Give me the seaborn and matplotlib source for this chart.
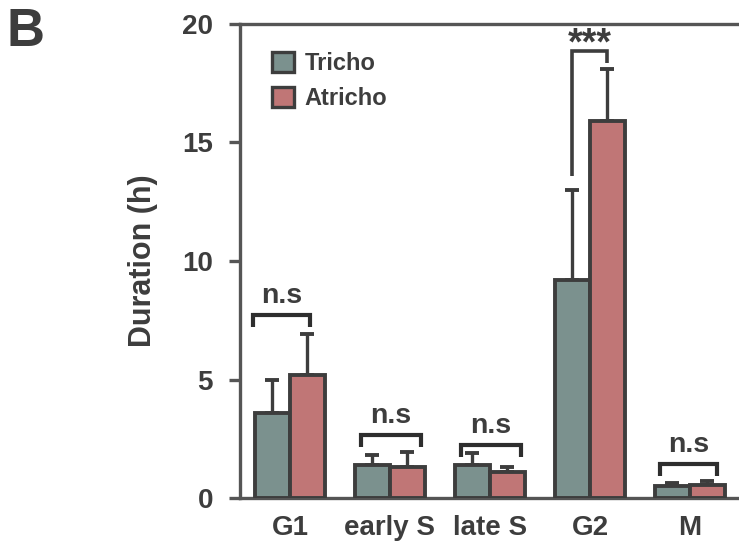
import numpy as np
import pandas as pd
import matplotlib
matplotlib.use("Agg")
import matplotlib.pyplot as plt
import seaborn as sns

# Cell-cycle phase durations (mean and upper SD) for the two cell types
phases = ["G1", "early S", "late S", "G2", "M"]
groups = ["Tricho", "Atricho"]
tricho_mean = [3.6, 1.4, 1.4, 9.2, 0.5]
tricho_sd = [1.4, 0.4, 0.5, 3.8, 0.12]
atricho_mean = [5.2, 1.3, 1.1, 15.9, 0.55]
atricho_sd = [1.7, 0.65, 0.2, 2.2, 0.15]
significance = ["n.s", "n.s", "n.s", "***", "n.s"]
y_ticks = [0, 5, 10, 15, 20]

df = pd.DataFrame({
    "phase": phases * 2,
    "group": [groups[0]] * len(phases) + [groups[1]] * len(phases),
    "duration": tricho_mean + atricho_mean,
})

sns.set_theme(style="white")
plt.rcParams["font.family"] = ["Liberation Sans", "DejaVu Sans"]
plt.rcParams["font.weight"] = "bold"

ink = "#3d3d3d"
spine_col = "#555555"
palette = {"Tricho": "#7b918e", "Atricho": "#c07676"}

fig = plt.figure(figsize=(7.39, 5.5), dpi=100)
ax = fig.add_axes([240 / 739, 52 / 550, 0.69, 474 / 550])

sns.barplot(data=df, x="phase", y="duration", hue="group", order=phases,
            hue_order=groups, palette=palette, width=0.7, errorbar=None,
            edgecolor=ink, linewidth=2.8, saturation=1, ax=ax, zorder=3)

# one-sided error bars placed on the bar centres drawn by seaborn
sds = [tricho_sd, atricho_sd]
means = [tricho_mean, atricho_mean]
bar_containers = list(ax.containers)
centers = []
for k, cont in enumerate(bar_containers):
    xs = [p.get_x() + p.get_width() / 2 for p in cont.patches]
    centers.append(xs)
    ax.errorbar(xs, means[k], yerr=[np.zeros(len(xs)), sds[k]], fmt="none",
                ecolor=ink, elinewidth=2.4, capsize=5, capthick=2.8, zorder=2)

# significance brackets
bracket_y = [7.72, 2.66, 2.24, 18.85, 1.43]
for i, label in enumerate(significance):
    y = bracket_y[i]
    if label == "***":
        x0, x1 = centers[0][i], centers[1][i]
        y0 = tricho_mean[i] + tricho_sd[i] + 0.6
        y1 = y - 0.5
        ax.plot([x0, x0, x1, x1], [y0, y, y, y1], color=ink, lw=2.6,
                solid_capstyle="butt", solid_joinstyle="miter", zorder=4,
                clip_on=False)
        ax.text((x0 + x1) / 2, y - 0.12, label, ha="center", va="baseline",
                fontsize=27, fontweight="bold", color=ink)
    else:
        off = [(-0.37, 0.2), (-0.29, 0.31), (-0.29, 0.31), (0, 0), (-0.3, 0.27)][i]
        x0, x1 = i + off[0], i + off[1]
        leg = 0.5
        ax.plot([x0, x0, x1, x1], [y - leg, y, y, y - leg], color="#2e2e2e",
                lw=3, solid_capstyle="butt", solid_joinstyle="miter", zorder=4)
        ax.text((x0 + x1) / 2, y + 0.25, label, ha="center", va="bottom",
                fontsize=20.5, fontweight="bold", color=ink)

ax.set_xlim(-0.5, 4.6)
ax.set_ylim(0, 20)
ax.set_yticks(y_ticks)
ax.set_yticklabels([str(t) for t in y_ticks])
ax.set_xlabel("")
ax.set_ylabel("Duration (h)", fontsize=22, fontweight="bold", color=ink)
ax.yaxis.set_label_coords(-0.16, 0.5)

for side in ["left", "top", "bottom"]:
    ax.spines[side].set_color(spine_col)
    ax.spines[side].set_linewidth(2.4)
ax.spines["right"].set_visible(False)

ax.tick_params(axis="y", left=True, length=8, width=2.4, color=spine_col,
               labelsize=20, pad=11.5, labelcolor=ink)
ax.tick_params(axis="x", bottom=False, length=0, labelsize=20, pad=12,
               labelcolor=ink)
for lab in ax.get_xticklabels() + ax.get_yticklabels():
    lab.set_fontweight("bold")

leg = ax.legend(loc="upper left", bbox_to_anchor=(0.045, 0.96), frameon=False,
                prop={"weight": "bold", "size": 17}, handlelength=0.9,
                handleheight=0.9, handletextpad=0.45, labelspacing=0.5,
                borderaxespad=0)
for t in leg.get_texts():
    t.set_color(ink)
for h in leg.legend_handles:
    h.set_edgecolor(ink)
    h.set_linewidth(2.4)

fig.text(7 / 739, 1 - 7 / 550, "B", fontsize=38, fontweight="bold",
         color=ink, ha="left", va="top")

fig.savefig("out.png", dpi=100)
